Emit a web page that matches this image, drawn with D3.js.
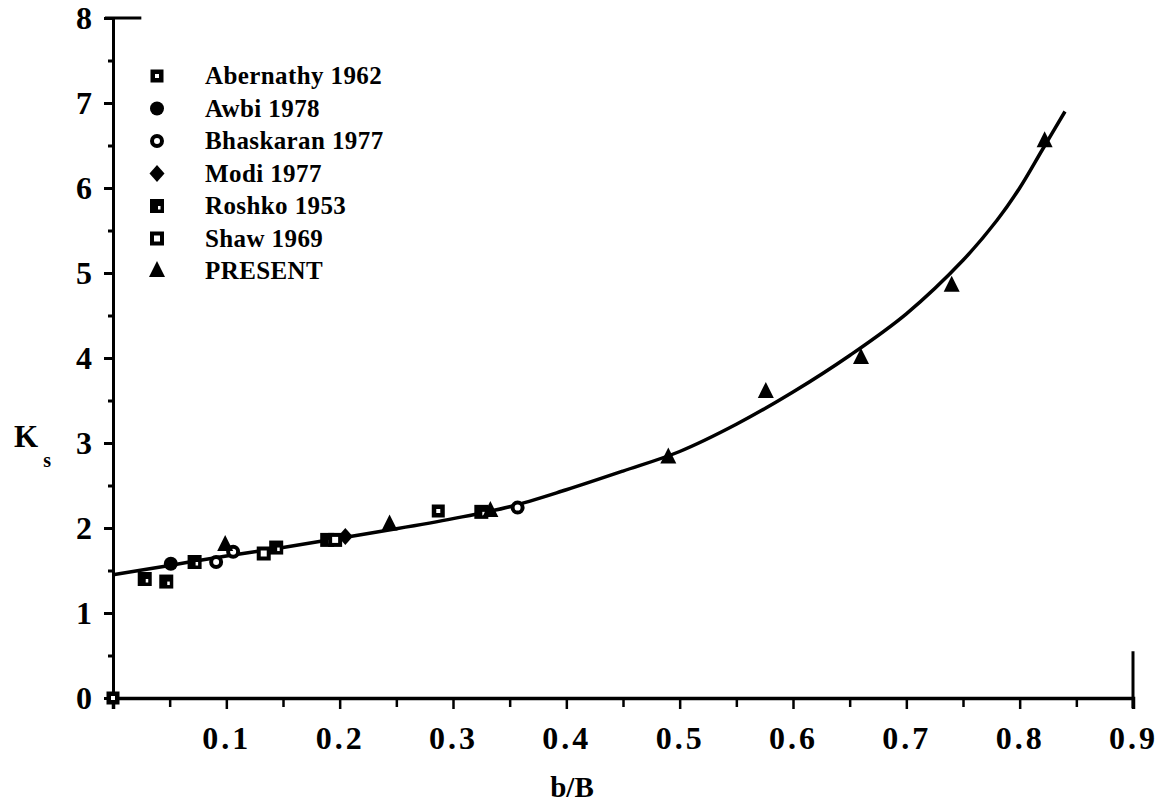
<!DOCTYPE html>
<html>
<head>
<meta charset="utf-8">
<script src="https://cdn.jsdelivr.net/npm/d3@7"></script>
<style>
  body { margin: 0; background: #fff; }
  svg { display: block; }
  .tick text { font-family: "Liberation Serif", "Times New Roman", serif; font-weight: bold; }
</style>
</head>
<body>
<div id="chart"></div>
<script>
// series names, in legend order
const seriesNames = ["Abernathy 1962", "Awbi 1978", "Bhaskaran 1977", "Modi 1977", "Roshko 1953", "Shaw 1969", "PRESENT"];

// data (b/B, Ks)
const abernathyX = [0.0, 0.287];
const abernathyY = [0.0, 2.2];
const awbiX = [0.051];
const awbiY = [1.58];
const bhaskaranX = [0.091, 0.106, 0.357];
const bhaskaranY = [1.6, 1.72, 2.24];
const modiX = [0.205];
const modiY = [1.9];
const roshkoX = [0.028, 0.047, 0.072, 0.144, 0.189, 0.325];
const roshkoY = [1.4, 1.37, 1.6, 1.77, 1.86, 2.19];
const shawX = [0.133, 0.196];
const shawY = [1.7, 1.86];
const presentX = [0.099, 0.244, 0.333, 0.49, 0.576, 0.66, 0.74, 0.822];
const presentY = [1.8, 2.04, 2.2, 2.83, 3.6, 4.0, 4.85, 6.55];

// fitted curve
const curveX = [0, 0.05, 0.1, 0.15, 0.2, 0.25, 0.3, 0.35, 0.4, 0.45, 0.5, 0.55, 0.6, 0.65, 0.7, 0.75, 0.78, 0.8, 0.82, 0.84];
const curveY = [1.45, 1.56, 1.67, 1.77, 1.88, 1.99, 2.11, 2.25, 2.45, 2.67, 2.9, 3.22, 3.6, 4.03, 4.52, 5.15, 5.62, 6.0, 6.45, 6.9];

// axis ticks
const xTickValues = [0.1, 0.2, 0.3, 0.4, 0.5, 0.6, 0.7, 0.8, 0.9];
const yTickValues = [0, 1, 2, 3, 4, 5, 6, 7, 8];

const width = 1173, height = 806;

const svg = d3.select("#chart")
	.append("svg")
	.attr("width", width)
	.attr("height", height)
	.attr("viewBox", `0 0 ${width} ${height}`);

svg.append("rect").attr("width", width).attr("height", height).attr("fill", "#fff");

const x = d3.scaleLinear().domain([0, 0.9]).range([113, 1133]);
const y = d3.scaleLinear().domain([0, 8]).range([698, 18]);

// y axis: minor ticks every 0.5, labels on integers
const yMinor = d3.range(0.5, 8, 1);
svg.append("g")
	.attr("transform", `translate(${x(0)},0)`)
	.call(d3.axisLeft(y).tickValues(yMinor).tickSize(5).tickFormat(""))
	.call(g => g.select(".domain").remove())
	.selectAll("line").attr("stroke", "#000").attr("stroke-width", 3);

const yAx = svg.append("g")
	.attr("transform", `translate(${x(0)},0)`)
	.call(d3.axisLeft(y).tickValues(yTickValues).tickSize(9).tickPadding(12).tickFormat(d3.format("d")));
yAx.select(".domain").attr("stroke", "#000").attr("stroke-width", 3);
yAx.selectAll(".tick line").attr("stroke", "#000").attr("stroke-width", 3);
yAx.selectAll(".tick text").attr("font-size", 32).attr("fill", "#000");

// x axis: ticks every 0.05 pointing down
const xMinor = d3.range(0.05, 0.9, 0.1);
svg.append("g")
	.attr("transform", `translate(0,${y(0)})`)
	.call(d3.axisBottom(x).tickValues(xMinor).tickSize(9).tickFormat(""))
	.call(g => g.select(".domain").remove())
	.selectAll("line").attr("stroke", "#000").attr("stroke-width", 2.5);

const xAx = svg.append("g")
	.attr("transform", `translate(0,${y(0)})`)
	.call(d3.axisBottom(x).tickValues(xTickValues).tickSize(11).tickPadding(17).tickFormat(d3.format(".1f")));
xAx.select(".domain").attr("stroke", "#000").attr("stroke-width", 3.5);
xAx.selectAll(".tick line").attr("stroke", "#000").attr("stroke-width", 2.5);
xAx.selectAll(".tick text").attr("font-size", 32).attr("fill", "#000").attr("letter-spacing", 3);

// short frame stubs at top and right
svg.append("line").attr("x1", x(0) - 8).attr("x2", x(0.025)).attr("y1", y(8)).attr("y2", y(8))
	.attr("stroke", "#000").attr("stroke-width", 3);
svg.append("line").attr("x1", x(0.9)).attr("x2", x(0.9)).attr("y1", y(0.55)).attr("y2", y(0) + 10)
	.attr("stroke", "#000").attr("stroke-width", 3);

// axis titles
svg.append("text")
	.attr("x", 572).attr("y", 797)
	.attr("text-anchor", "middle")
	.attr("font-family", "Liberation Serif, serif").attr("font-weight", "bold").attr("font-size", 29)
	.text("b/B");
const kLabel = svg.append("text")
	.attr("x", 14).attr("y", 447)
	.attr("font-family", "Liberation Serif, serif").attr("font-weight", "bold").attr("font-size", 31);
kLabel.append("tspan").text("K");
kLabel.append("tspan").attr("dx", 5).attr("dy", 20).attr("font-size", 20).text("s");

// fitted curve
const curvePts = curveX.map((d, i) => [d, curveY[i]]);
svg.append("path")
	.datum(curvePts)
	.attr("fill", "none")
	.attr("stroke", "#000")
	.attr("stroke-width", 3.5)
	.attr("d", d3.line().x(d => x(d[0])).y(d => y(d[1])).curve(d3.curveCatmullRom));

// marker drawers
function drawMarker(g, type, cx, cy) {
	if (type === "Abernathy 1962") {
		g.append("rect").attr("x", cx - 6.5).attr("y", cy - 6.5).attr("width", 13).attr("height", 13).attr("fill", "#000");
		g.append("rect").attr("x", cx - 2).attr("y", cy - 2).attr("width", 4).attr("height", 4).attr("fill", "#fff");
	} else if (type === "Awbi 1978") {
		g.append("circle").attr("cx", cx).attr("cy", cy).attr("r", 7).attr("fill", "#000");
	} else if (type === "Bhaskaran 1977") {
		g.append("circle").attr("cx", cx).attr("cy", cy).attr("r", 5).attr("fill", "#fff").attr("stroke", "#000").attr("stroke-width", 4);
	} else if (type === "Modi 1977") {
		g.append("path").attr("d", `M${cx},${cy - 8.5}L${cx + 7.5},${cy}L${cx},${cy + 8.5}L${cx - 7.5},${cy}Z`).attr("fill", "#000");
	} else if (type === "Roshko 1953") {
		g.append("rect").attr("x", cx - 7).attr("y", cy - 7).attr("width", 14).attr("height", 14).attr("fill", "#000");
		g.append("rect").attr("x", cx + 1).attr("y", cy).attr("width", 2.5).attr("height", 3.5).attr("fill", "#fff");
	} else if (type === "Shaw 1969") {
		g.append("rect").attr("x", cx - 5).attr("y", cy - 5).attr("width", 10).attr("height", 10).attr("fill", "#fff").attr("stroke", "#000").attr("stroke-width", 4);
	} else {
		g.append("path").attr("d", `M${cx},${cy - 10}L${cx + 8},${cy + 6}L${cx - 8},${cy + 6}Z`).attr("fill", "#000");
	}
}

const seriesData = [
	[abernathyX, abernathyY],
	[awbiX, awbiY],
	[bhaskaranX, bhaskaranY],
	[modiX, modiY],
	[roshkoX, roshkoY],
	[shawX, shawY],
	[presentX, presentY]
];

const marks = svg.append("g");
seriesData.forEach(([xs, ys], si) => {
	xs.forEach((v, i) => drawMarker(marks, seriesNames[si], x(v), y(ys[i])));
});

// legend
const legend = svg.append("g");
seriesNames.forEach((name, i) => {
	const ly = 76 + i * 32.5;
	drawMarker(legend, name, 157, ly);
	legend.append("text")
		.attr("x", 205).attr("y", ly + 8)
		.attr("font-family", "Liberation Serif, serif").attr("font-weight", "bold").attr("font-size", 25)
		.attr("letter-spacing", 0.4)
		.text(name);
});
</script>
</body>
</html>
